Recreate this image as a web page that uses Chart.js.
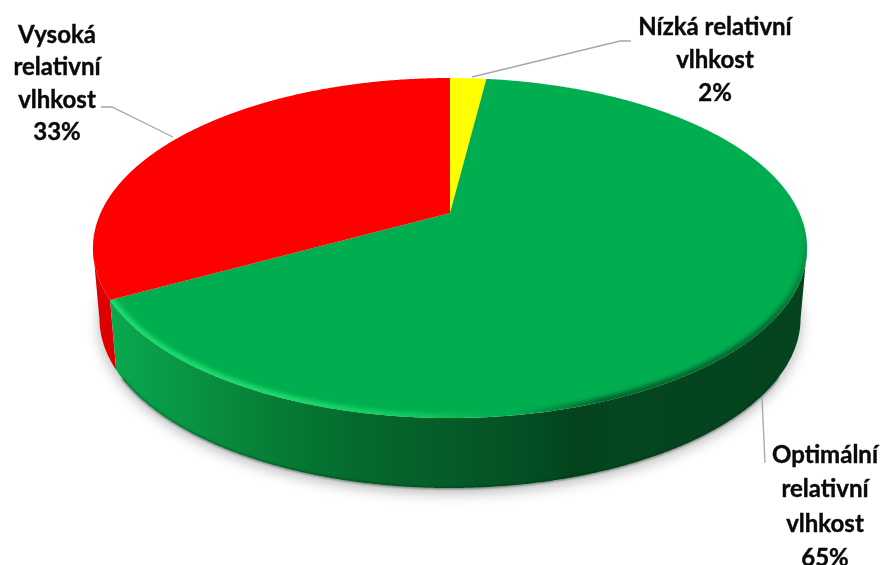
<!DOCTYPE html>
<html lang="cs">
<head>
  <meta charset="UTF-8">
  <title>Relativní vlhkost</title>
  <script src="https://cdn.jsdelivr.net/npm/chart.js"></script>
  <style>
    html, body { margin: 0; padding: 0; background: #fff; overflow: hidden; }
    canvas { display: block; }
  </style>
</head>
<body>
  <canvas id="graf" width="885" height="565"></canvas>

  <script>
    const categories = [
      ['Nízká relativní', 'vlhkost'],
      ['Optimální', 'relativní', 'vlhkost'],
      ['Vysoká', 'relativní', 'vlhkost']
    ];
    const values = [2, 65, 33];
    const sliceColors = ['#ffff00', '#00ae50', '#ff0000'];

    // tilted disc: apex, half axes, perspective factor and side wall
    const disc = { x: 450, y: 213, a: 349.4, b: 162.8, p: -0.206, depth: 70, shrink: 0.982, midY: 248 };

    const labelBoxes = [
      { x: 715, y: 27, gap: 33 },
      { x: 825, y: 455, gap: 34.5 },
      { x: 57, y: 35, gap: 32.5 }
    ];
    const leaders = [
      [[631, 41], [620, 41], [472, 77]],
      [[765, 463], [762, 397]],
      [[101, 107], [112, 107], [173, 137]]
    ];

    // slice angle (chart.js, radians) -> point on the tilted top face
    function facePoint(angle) {
      const t = angle + Math.PI / 2;
      const u = Math.sin(t), v = -Math.cos(t);
      const w = 1 + disc.p * v;
      return { x: disc.x + disc.a * u / w, y: disc.y + disc.b * v / w };
    }

    function lowerPoint(pt) {
      return { x: disc.x + (pt.x - disc.x) * disc.shrink, y: pt.y + disc.depth };
    }

    function sampleArc(start, end) {
      const pts = [];
      const steps = Math.max(2, Math.ceil((end - start) / (Math.PI / 720)));
      for (let i = 0; i <= steps; i++) {
        pts.push(facePoint(start + (end - start) * i / steps));
      }
      return pts;
    }

    function tracePath(ctx, pts) {
      pts.forEach((pt, i) => i ? ctx.lineTo(pt.x, pt.y) : ctx.moveTo(pt.x, pt.y));
    }

    function wedgePath(ctx, arc) {
      ctx.beginPath();
      tracePath(ctx, [{ x: disc.x, y: disc.y }].concat(sampleArc(arc.startAngle, arc.endAngle)));
      ctx.closePath();
    }

    function wallFill(ctx, color) {
      if (color !== sliceColors[1]) return '#dd0000';
      const g = ctx.createLinearGradient(113, 0, 807, 0);
      const stops = [[0, '#0aa84f'], [0.14, '#088e40'], [0.25, '#067a34'], [0.35, '#056a2e'],
                     [0.48, '#055c29'], [0.60, '#044e23'], [0.67, '#03421c'], [0.72, '#04461f'], [1, '#04431e']];
      stops.forEach(s => g.addColorStop(s[0], s[1]));
      return g;
    }

    const tiltedPie = {
      id: 'tiltedPie',
      beforeDatasetsDraw(chart) {
        const ctx = chart.ctx;
        const arcs = chart.getDatasetMeta(0).data;

        // soft shadow under the disc
        ctx.save();
        ctx.shadowColor = 'rgba(0,0,0,0.28)';
        ctx.shadowBlur = 14;
        ctx.shadowOffsetY = 5;
        ctx.fillStyle = '#fff';
        ctx.beginPath();
        tracePath(ctx, sampleArc(0, Math.PI * 2).map(lowerPoint));
        ctx.closePath();
        ctx.fill();
        ctx.restore();

        // side wall, back slices first so the green one overlaps
        [2, 0, 1].forEach(i => {
          const arc = arcs[i];
          const top = sampleArc(arc.startAngle, arc.endAngle).filter(pt => pt.y >= disc.midY);
          if (top.length < 2) return;
          ctx.beginPath();
          tracePath(ctx, top.concat(top.map(lowerPoint).reverse()));
          ctx.closePath();
          ctx.fillStyle = wallFill(ctx, arc.options.backgroundColor);
          ctx.fill();
        });

        // dark line along the bottom edge of the green wall
        ctx.save();
        ctx.filter = 'blur(1px)';
        ctx.strokeStyle = 'rgba(0,45,18,0.55)';
        ctx.lineWidth = 2;
        ctx.beginPath();
        tracePath(ctx, sampleArc(arcs[1].startAngle, arcs[1].endAngle)
          .filter(pt => pt.y >= disc.midY + 60).map(lowerPoint));
        ctx.stroke();
        ctx.restore();

        // top faces
        arcs.forEach(arc => {
          wedgePath(ctx, arc);
          ctx.fillStyle = arc.options.backgroundColor;
          ctx.fill();
        });

        // rim of the green face, shade on the right turning into a highlight on the left
        const green = arcs[1];
        ctx.save();
        wedgePath(ctx, green);
        ctx.clip();
        ctx.filter = 'blur(2px)';
        const rim = ctx.createConicGradient(0, disc.x, disc.y);
        rim.addColorStop(0, 'rgba(5,70,30,0)');
        rim.addColorStop(0.05, 'rgba(5,65,28,0.6)');
        rim.addColorStop(0.14, 'rgba(5,65,28,0.7)');
        rim.addColorStop(0.2, 'rgba(5,70,30,0)');
        rim.addColorStop(0.21, 'rgba(30,225,110,0)');
        rim.addColorStop(0.28, 'rgba(30,225,110,0.55)');
        rim.addColorStop(0.36, 'rgba(30,225,110,0.9)');
        rim.addColorStop(0.47, 'rgba(30,225,110,0.95)');
        rim.addColorStop(0.5, 'rgba(30,225,110,0)');
        rim.addColorStop(1, 'rgba(5,70,30,0)');
        ctx.strokeStyle = rim;
        ctx.lineWidth = 9;
        ctx.beginPath();
        tracePath(ctx, sampleArc(green.startAngle, green.endAngle));
        ctx.stroke();
        ctx.restore();

        return false;
      },
      afterDraw(chart) {
        const ctx = chart.ctx;
        ctx.save();
        ctx.strokeStyle = '#a6a6a6';
        ctx.lineWidth = 1.3;
        leaders.forEach(line => {
          ctx.beginPath();
          line.forEach((pt, i) => i ? ctx.lineTo(pt[0], pt[1]) : ctx.moveTo(pt[0], pt[1]));
          ctx.stroke();
        });
        ctx.fillStyle = '#0a0a0a';
        ctx.strokeStyle = '#0a0a0a';
        ctx.lineWidth = 0.4;
        ctx.font = 'bold 24px Lato';
        ctx.textAlign = 'center';
        ctx.textBaseline = 'middle';
        categories.forEach((name, i) => {
          const box = labelBoxes[i];
          name.concat(values[i] + '%').forEach((text, n) => {
            ctx.fillText(text, box.x, box.y + n * box.gap);
            ctx.strokeText(text, box.x, box.y + n * box.gap);
          });
        });
        ctx.restore();
      }
    };

    new Chart(document.getElementById('graf'), {
      type: 'pie',
      data: {
        labels: categories,
        datasets: [{ data: values, backgroundColor: sliceColors, borderWidth: 0 }]
      },
      options: {
        responsive: false,
        animation: false,
        plugins: { legend: { display: false }, tooltip: { enabled: false } }
      },
      plugins: [tiltedPie]
    });
  </script>
</body>
</html>
